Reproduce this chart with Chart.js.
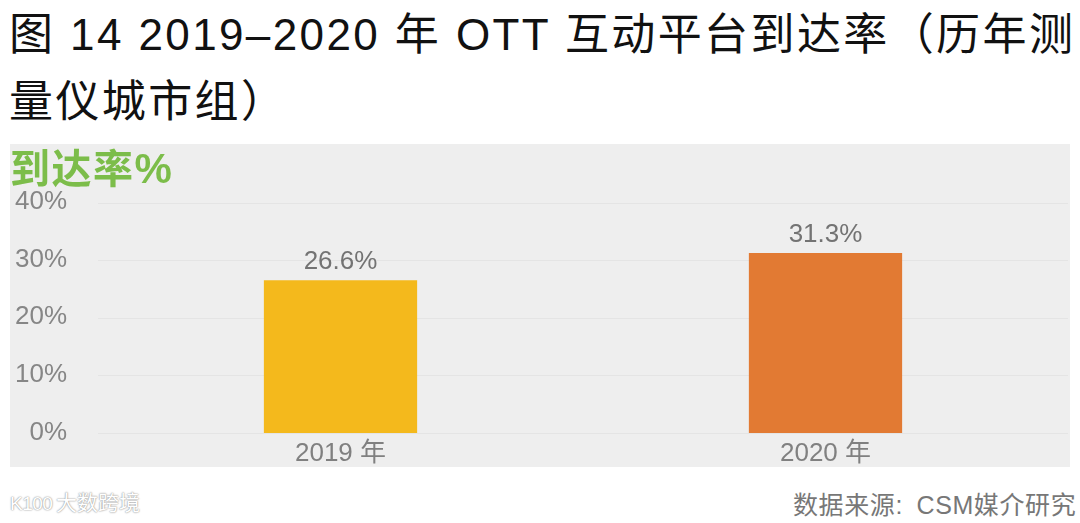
<!DOCTYPE html>
<html>
<head>
<meta charset="utf-8">
<style>
    html, body { margin: 0; padding: 0; background: #fff; }
    body { width: 1080px; height: 523px; position: relative; overflow: hidden; font-family: "Liberation Sans", "Noto Sans CJK SC", sans-serif; }
    #title { position: absolute; left: 9px; top: 1px; width: 1070px; font-size: 44px; line-height: 67px; letter-spacing: 2.4px; color: #111; white-space: nowrap; }
    #panel { position: absolute; left: 10px; top: 144px; width: 1060px; height: 323px; background: #eeeeee; }
    #unit { position: absolute; left: 10px; top: 147px; font-size: 40px; line-height: 44px; letter-spacing: 1.5px; font-weight: bold; color: #7cbd4a; white-space: nowrap; }
    #unit span { font-size: 42px; }
    #source { position: absolute; left: 793px; top: 490px; font-size: 25px; line-height: 30px; letter-spacing: 0.6px; word-spacing: 6px; color: #777; white-space: nowrap; }
    #mark { position: absolute; left: 10px; top: 488px; font-size: 21px; line-height: 30px; color: #fff; white-space: nowrap; text-shadow: 0 0 2px #999, 0 0 1px #999; }
    #mark span { display: inline-block; width: 46px; font-size: 19px; letter-spacing: -0.5px; }
    #chartBox { position: absolute; left: 10px; top: 144px; width: 1060px; height: 336px; }
</style>
</head>
<body>
<div id="title">图 14 2019–2020 年 OTT 互动平台到达率（历年测<br>量仪城市组）</div>
<div id="panel"></div>
<div id="chartBox"><canvas id="otReach"></canvas></div>
<div id="unit">到达率<span>%</span></div>
<div id="mark"><span>K100</span>大数跨境</div>
<div id="source">数据来源: CSM媒介研究</div>

<script src="https://cdn.jsdelivr.net/npm/chart.js@4"></script>
<script>
const years = ["2019 年", "2020 年"];
const reach = [26.6, 31.3];
const barColors = ["#f4b91c", "#e27a33"];
const yTicks = [0, 10, 20, 30, 40];

// value labels above the bars
const barLabels = {
    id: "barLabels",
    afterDatasetsDraw(chart) {
        const c = chart.ctx;
        const bars = chart.getDatasetMeta(0).data;
        c.save();
        c.font = '26px "Liberation Sans"';
        c.fillStyle = "#737373";
        c.textAlign = "center";
        c.textBaseline = "bottom";
        bars.forEach((bar, i) => {
            c.fillText(reach[i].toFixed(1) + "%", bar.x, bar.y - 5);
        });
        c.restore();
    }
};

new Chart(document.getElementById("otReach"), {
    type: "bar",
    data: {
        labels: years,
        datasets: [{
            data: reach,
            backgroundColor: barColors,
            categoryPercentage: 1,
            barPercentage: 0.316
        }]
    },
    options: {
        responsive: true,
        maintainAspectRatio: false,
        animation: false,
        layout: { padding: { top: 59, right: 2 } },
        plugins: {
            legend: { display: false },
            tooltip: { enabled: false }
        },
        scales: {
            x: {
                grid: { display: false, drawTicks: false },
                border: { display: false },
                ticks: { color: "#808080", font: { size: 26, family: '"Liberation Sans", "Noto Sans CJK SC"' }, padding: 5 },
                afterFit(scale) { scale.height = 34; }
            },
            y: {
                min: 0,
                max: 40,
                afterBuildTicks(scale) { scale.ticks = yTicks.map(v => ({ value: v })); },
                grid: { color: "#e4e4e4", drawTicks: false },
                border: { display: false },
                ticks: {
                    color: "#868686",
                    font: { size: 26, family: '"Liberation Sans"' },
                    padding: 31,
                    labelOffset: -1,
                    callback: v => v + "%"
                },
                afterFit(scale) { scale.width = 88; }
            }
        }
    },
    plugins: [barLabels]
});
</script>
</body>
</html>
